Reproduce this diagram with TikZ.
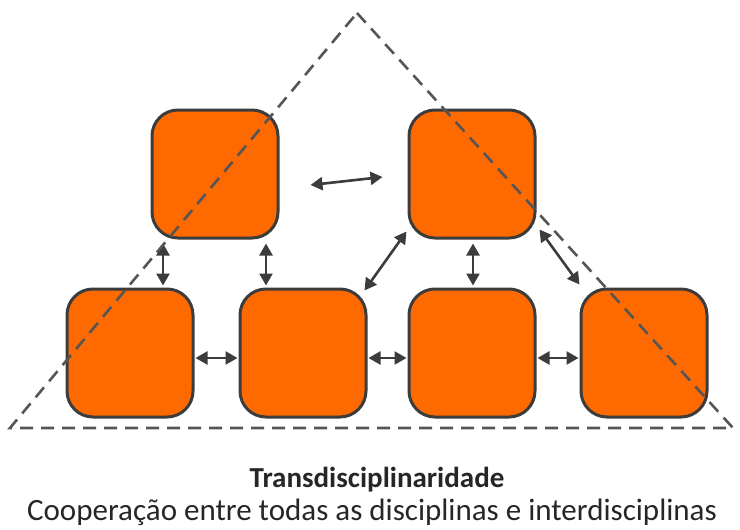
\documentclass[tikz,border=0pt]{standalone}
\usepackage{fontspec}
\setmainfont{Carlito}
\usetikzlibrary{arrows.meta}
\definecolor{boxorange}{HTML}{FF6A00}
\definecolor{edgegray}{HTML}{3C3C3C}
\definecolor{dashgray}{HTML}{555555}
\begin{document}
\begin{tikzpicture}[x=1pt,y=-1pt,
  disc/.style={draw=edgegray,line width=3pt,fill=boxorange,rounded corners=26pt,
    minimum width=126pt,minimum height=128pt,inner sep=0pt},
  dbl/.style={edgegray,line width=2.6pt,{Triangle[length=12pt,width=13pt]}-{Triangle[length=12pt,width=13pt]}},
  frame/.style={dashgray,line width=2.6pt,dash pattern=on 13pt off 8pt,line join=miter},
  lbl/.style={text=black!85}]
\useasboundingbox (0,0) rectangle (740,530);
\node[disc] (A)  at (215,174) {};
\node[disc] (Bb) at (472,174) {};
\node[disc] (B1) at (130,353) {};
\node[disc] (B2) at (303,353) {};
\node[disc] (B3) at (472,353) {};
\node[disc] (B4) at (644,353) {};
% connectors
\draw[dbl] ([xshift=31pt,yshift=-11pt]A.east) -- ([xshift=-25pt,yshift=-3pt]Bb.west);
\draw[dbl] ([xshift=-52pt,yshift=-4pt]A.south) -- ([xshift=33pt,yshift=2pt]B1.north);
\draw[dbl] ([xshift=51pt,yshift=-4pt]A.south) -- ([xshift=-37pt,yshift=2pt]B2.north);
\draw[dbl] ([xshift=-1pt,yshift=8pt]Bb.south west) -- ([xshift=-3pt,yshift=-3pt]B2.north east);
\draw[dbl] ([xshift=1pt,yshift=-4pt]Bb.south) -- ([xshift=1pt,yshift=2pt]B3.north);
\draw[dbl] ([xshift=3pt,yshift=10pt]Bb.south east) -- ([xshift=0pt,yshift=3pt]B4.north west);
\draw[dbl] ([xshift=1pt,yshift=-5pt]B1.east) -- ([xshift=-1pt,yshift=-5pt]B2.west);
\draw[dbl] ([xshift=1pt,yshift=-5pt]B2.east) -- ([xshift=-1pt,yshift=-5pt]B3.west);
\draw[dbl] ([xshift=1pt,yshift=-5pt]B3.east) -- ([xshift=-1pt,yshift=-5pt]B4.west);
% dashed triangle
\coordinate (apex) at (357,13);
\coordinate (br) at (733,428);
\coordinate (bl) at (10,428);
\draw[frame] (apex) -- (br) -- (bl) -- cycle;
% caption
\node[lbl,font=\fontsize{29}{33}\selectfont\bfseries] (title) at (377,480) {Transdisciplinaridade};
\node[lbl,font=\fontsize{31}{36}\selectfont] (sub) at (372,512) {Cooperação entre todas as disciplinas e interdisciplinas};
\end{tikzpicture}
\end{document}
